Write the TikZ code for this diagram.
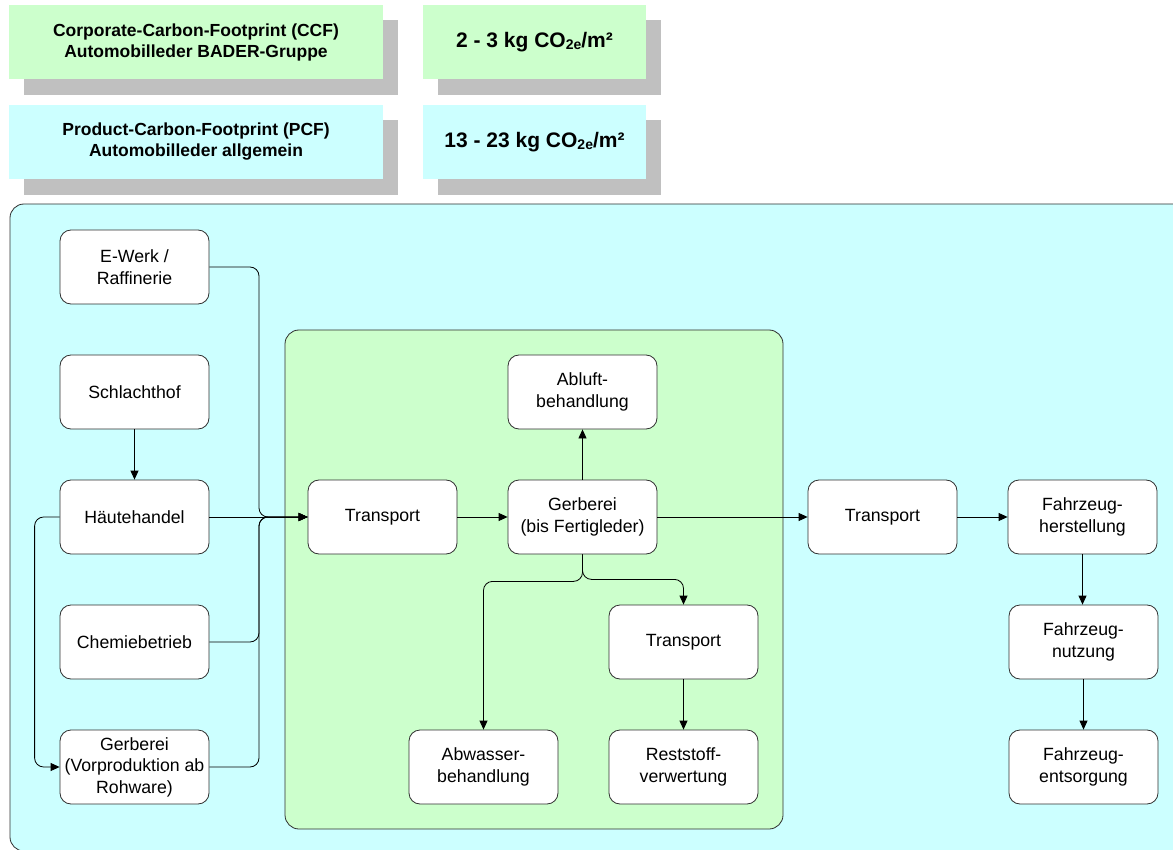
\documentclass[tikz,border=0pt]{standalone}
\usepackage{fontspec}
\setmainfont{Liberation Sans}
\usetikzlibrary{arrows.meta}
\definecolor{lgreen}{HTML}{CCFFCC}
\definecolor{lcyan}{HTML}{CCFFFF}
\definecolor{shadowgray}{HTML}{C0C0C0}
\definecolor{edge}{HTML}{303030}
\newcommand{\cotwo}{CO\raisebox{-0.22ex}{\fontsize{14}{14}\selectfont 2e}/m²}
\begin{document}
\begin{tikzpicture}[x=1pt,y=-1pt,
  proc/.style={draw=edge, line width=0.8pt, fill=white, rounded corners=11pt,
    minimum width=149pt, minimum height=74pt, align=center, inner sep=0pt,
    font=\fontsize{17.7}{21.5}\selectfont},
  conn/.style={draw=black, line width=0.8pt, rounded corners=9pt},
  arr/.style={conn, -{Triangle[length=9pt,width=8pt]}},
  hdr/.style={minimum height=74pt, align=center, inner sep=0pt},
  hdrtext/.style={font=\bfseries\fontsize{17.5}{21}\selectfont},
  valtext/.style={font=\bfseries\fontsize{21}{24}\selectfont},
  shadowbox/.style={fill=shadowgray, draw=none},
  region/.style={draw=edge, line width=0.8pt, rounded corners=14pt}
]
\useasboundingbox (0,0) rectangle (1173,850);
\clip (0,0) rectangle (1173,850);

% header boxes with shadows
\fill[shadowbox] (24,20) rectangle (398,95);
\fill[shadowbox] (438,20) rectangle (661,95);
\fill[shadowbox] (24,120) rectangle (398,195);
\fill[shadowbox] (438,120) rectangle (661,195);
\node[hdr, hdrtext, fill=lgreen, minimum width=374pt] (ccf) at (196,42)
  {Corporate-Carbon-Footprint (CCF)\\Automobilleder BADER-Gruppe};
\node[hdr, valtext, fill=lgreen, minimum width=223pt] (ccfval) at (534.5,42)
  {2 - 3 kg \cotwo};
\node[hdr, hdrtext, fill=lcyan, minimum width=374pt] (pcf) at (196,142)
  {Product-Carbon-Footprint (PCF)\\Automobilleder allgemein};
\node[hdr, valtext, fill=lcyan, minimum width=223pt] (pcfval) at (534.5,142)
  {13 - 23 kg \cotwo};

% regions
\path[region, fill=lcyan] (10,204) rectangle (1210,851);
\path[region, fill=lgreen] (285,330) rectangle (783,829);

% nodes
\node[proc] (ewerk)  at (134.5,267) {E-Werk /\\Raffinerie};
\node[proc] (schl)   at (134.5,392) {Schlachthof};
\node[proc] (haut)   at (134.5,517) {Häutehandel};
\node[proc] (chem)   at (134.5,642) {Chemiebetrieb};
\node[proc] (gvor)   at (134.5,767) {Gerberei\\(Vorproduktion ab\\Rohware)};
\node[proc] (tr1)    at (382.5,517) {Transport};
\node[proc] (abluft) at (582.5,392) {Abluft-\\behandlung};
\node[proc] (gerb)   at (582.5,517) {Gerberei\\(bis Fertigleder)};
\node[proc] (tr2)    at (683.5,642) {Transport};
\node[proc] (abw)    at (483.5,767) {Abwasser-\\behandlung};
\node[proc] (rest)   at (683.5,767) {Reststoff-\\verwertung};
\node[proc] (tr3)    at (882.5,517) {Transport};
\node[proc] (fherst) at (1082.5,517) {Fahrzeug-\\herstellung};
\node[proc] (fnutz)  at (1083.5,642) {Fahrzeug-\\nutzung};
\node[proc] (fents)  at (1083.5,767) {Fahrzeug-\\entsorgung};

\coordinate (jn) at (259,517);

% connectors
\draw[arr] (ewerk.east) -| (jn) -- (tr1.west);
\draw[arr] (haut.east) -- (tr1.west);
\draw[arr] (chem.east) -| (jn) -- (tr1.west);
\draw[arr] (gvor.east) -| (jn) -- (tr1.west);
\draw[arr] (schl.south) -- (haut.north);
\draw[arr] (haut.west) -- ++(-25,0) |- (gvor.west);
\draw[arr] (tr1.east) -- (gerb.west);
\draw[arr] (gerb.north) -- (abluft.south);
\draw[arr] (gerb.east) -- (tr3.west);
\draw[arr] (gerb.south) -- ++(0,27) -| (abw.north);
\draw[arr] (gerb.south) -- ++(0,25) -| (tr2.north);
\draw[arr] (tr2.south) -- (rest.north);
\draw[arr] (tr3.east) -- (fherst.west);
\draw[arr] (fherst.south) -- (fnutz.north -| fherst.south);
\draw[arr] (fnutz.south) -- (fents.north);
\end{tikzpicture}
\end{document}
